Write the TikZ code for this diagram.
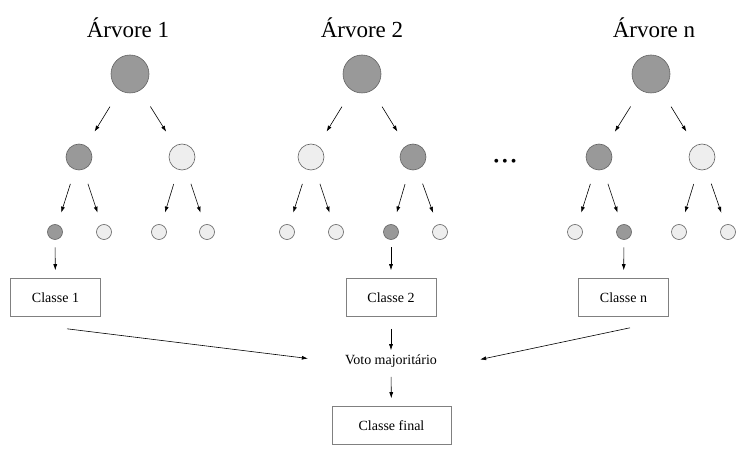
\documentclass[tikz,border=0pt]{standalone}
\usepackage{fontspec}
\setmainfont{Liberation Serif}
\usepackage{tikz}
\usetikzlibrary{arrows.meta, calc, positioning}
\definecolor{escuro}{RGB}{153, 153, 153}
\definecolor{claro}{RGB}{238, 238, 238}
\definecolor{borda}{RGB}{100, 100, 100}
\tikzset{
    circlenode/.style = {circle, draw=borda, line width=0.6pt, inner sep=0em, node distance=0em},
    rootnode/.style = {circlenode, minimum size=38pt},
    midnode/.style = {circlenode, minimum size=26pt},
    leafnode/.style = {circlenode, minimum size=15pt},
    votenode/.style = {fill=escuro},
    restnode/.style = {fill=claro},
    rectanglenode/.style = {draw=black!50, line width=0.6pt, rectangle, minimum width=90pt,
      minimum height=38pt, node distance=0em, font=\fontsize{14}{16}\selectfont},
    textnode/.style = {draw=none, rectangle, inner sep=0em, node distance=0em,
      font=\fontsize{14}{16}\selectfont},
    titlenode/.style = {textnode, font=\fontsize{23}{27}\selectfont},
    connect/.style = {black, line width=0.6pt, -{Latex[length=6pt,width=4pt]}},
    down1/.style = {connect, shorten <=19pt, shorten >=16.5pt},
    down2/.style = {connect, shorten <=15pt, shorten >=12.5pt},
    down3/.style = {connect, shorten <=7.5pt, shorten >=8pt}
}

\begin{document}
\begin{tikzpicture}[x=1pt, y=1pt]
    \useasboundingbox (0,0) rectangle (745,453);

    % arvore 1
    \node[titlenode, name=T1] at (128,425) {Árvore 1};
    \node[rootnode, votenode, name=R1] at (130,379) {};
    \node[midnode, votenode, name=A1, below of=R1, xshift=-51pt, yshift=-83pt] {};
    \node[midnode, restnode, name=B1, below of=R1, xshift=52pt, yshift=-83pt] {};
    \node[leafnode, votenode, name=A1a, below of=A1, xshift=-24pt, yshift=-75pt] {};
    \node[leafnode, restnode, name=A1b, below of=A1, xshift=25pt, yshift=-75pt] {};
    \node[leafnode, restnode, name=B1a, below of=B1, xshift=-23pt, yshift=-75pt] {};
    \node[leafnode, restnode, name=B1b, below of=B1, xshift=25pt, yshift=-75pt] {};
    \node[rectanglenode, name=C1, below of=A1a, xshift=0.5pt, yshift=-65.5pt] {Classe 1};
    \draw[down1] (R1) -- (A1);
    \draw[down1] (R1) -- (B1);
    \draw[down2] (A1) -- (A1a);
    \draw[down2] (A1) -- (A1b);
    \draw[down2] (B1) -- (B1a);
    \draw[down2] (B1) -- (B1b);
    \draw[down3] (A1a) -- (C1);

    % arvore 2
    \node[titlenode, name=T2] at (362,425) {Árvore 2};
    \node[rootnode, votenode, name=R2] at (362,379) {};
    \node[midnode, restnode, name=A2, below of=R2, xshift=-51pt, yshift=-83pt] {};
    \node[midnode, votenode, name=B2, below of=R2, xshift=51pt, yshift=-83pt] {};
    \node[leafnode, restnode, name=A2a, below of=A2, xshift=-24pt, yshift=-75pt] {};
    \node[leafnode, restnode, name=A2b, below of=A2, xshift=25pt, yshift=-75pt] {};
    \node[leafnode, votenode, name=B2a, below of=B2, xshift=-22pt, yshift=-75pt] {};
    \node[leafnode, restnode, name=B2b, below of=B2, xshift=27pt, yshift=-75pt] {};
    \node[rectanglenode, name=C2, below of=B2a, yshift=-65.5pt] {Classe 2};
    \draw[down1] (R2) -- (A2);
    \draw[down1] (R2) -- (B2);
    \draw[down2] (A2) -- (A2a);
    \draw[down2] (A2) -- (A2b);
    \draw[down2] (B2) -- (B2a);
    \draw[down2] (B2) -- (B2b);
    \draw[down3] (B2a) -- (C2);

    \node[textnode, name=Dots] at (505,290) {\fontsize{16}{18}\selectfont \textbullet\hspace{3pt}\textbullet\hspace{3pt}\textbullet};

    % arvore n
    \node[titlenode, name=T3] at (654,425) {Árvore n};
    \node[rootnode, votenode, name=R3] at (651,379) {};
    \node[midnode, votenode, name=A3, below of=R3, xshift=-52pt, yshift=-83pt] {};
    \node[midnode, restnode, name=B3, below of=R3, xshift=51pt, yshift=-83pt] {};
    \node[leafnode, restnode, name=A3a, below of=A3, xshift=-24pt, yshift=-75pt] {};
    \node[leafnode, votenode, name=A3b, below of=A3, xshift=25pt, yshift=-75pt] {};
    \node[leafnode, restnode, name=B3a, below of=B3, xshift=-23pt, yshift=-75pt] {};
    \node[leafnode, restnode, name=B3b, below of=B3, xshift=26pt, yshift=-75pt] {};
    \node[rectanglenode, name=C3, below of=A3b, xshift=-0.5pt, yshift=-65.5pt] {Classe n};
    \draw[down1] (R3) -- (A3);
    \draw[down1] (R3) -- (B3);
    \draw[down2] (A3) -- (A3a);
    \draw[down2] (A3) -- (A3b);
    \draw[down2] (B3) -- (B3a);
    \draw[down2] (B3) -- (B3b);
    \draw[down3] (A3b) -- (C3);

    % votacao
    \node[textnode, name=Voto, below of=C2, yshift=-64pt] {Voto majoritário};
    \node[rectanglenode, name=Final, below of=Voto, xshift=0.5pt, yshift=-64pt, minimum width=119pt] {Classe final};
    \draw[connect, shorten <=12pt, shorten >=4.75pt] (C2) -- (Voto);
    \draw[connect, shorten <=8.75pt, shorten >=8pt] (Voto) -- (Final);
    \draw[connect] ([xshift=11.5pt, yshift=-12pt]C1.south) -- ([xshift=-37pt, yshift=3pt]Voto.west);
    \draw[connect] ([xshift=6.5pt, yshift=-11pt]C3.south) -- ([xshift=43pt, yshift=2pt]Voto.east);
\end{tikzpicture}
\end{document}
